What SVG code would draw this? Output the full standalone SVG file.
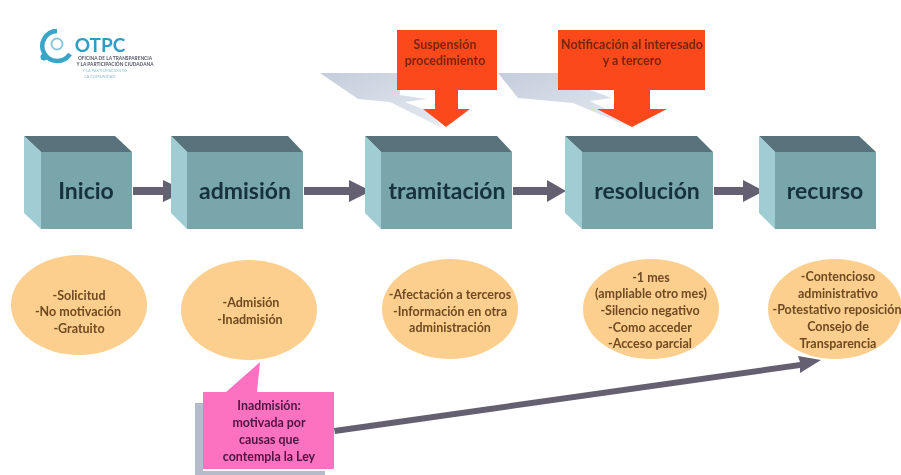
<svg xmlns="http://www.w3.org/2000/svg" width="901" height="475" viewBox="0 0 901 475">
<defs>
<filter id="b" x="-5%" y="-5%" width="110%" height="110%"><feGaussianBlur stdDeviation="0.7"/></filter>
<linearGradient id="s1" x1="0" y1="0" x2="1" y2="1"><stop offset="0" stop-color="#c4cddc"/><stop offset="1" stop-color="#e6eaf0"/></linearGradient>
</defs>
<style>
.front{fill:#78a6ab}.side{fill:#a0ccd4}.top{fill:#58737b}
.t{font-family:Lato,"Open Sans",sans-serif;text-anchor:middle}
.big{font-size:23px;fill:#15303c;font-weight:700}
.o{fill:#fccf8e}
.ot{font-size:12.5px;font-weight:700;fill:#6f4a23}
.rt{font-size:12.5px;font-weight:700;fill:#7a2410}
.pt{font-size:12.4px;font-weight:700;fill:#4e1440}
.sh{fill:url(#s1)}
.red{fill:#fb4a1c}
.arr{fill:#655f72}
</style>
<rect width="901" height="475" fill="#ffffff"/>
<g id="logo" filter="url(#b)">
<path d="M57 31 A15 15 0 1 0 70 54" fill="none" stroke="#3ba4c8" stroke-width="4.5"/>
<circle cx="44" cy="57" r="3.5" fill="#3ba4c8"/><circle cx="57" cy="44" r="5.5" fill="none" stroke="#8cc8dc" stroke-width="2"/>
<text class="t" x="100" y="52" style="font-size:19px;font-weight:700;fill:#2f9cc6">OTPC</text>
<text class="t" x="115" y="60" style="font-size:4.8px;font-weight:700;fill:#556">OFICINA DE LA TRANSPARENCIA</text>
<text class="t" x="115" y="66" style="font-size:4.8px;font-weight:700;fill:#556">Y LA PARTICIPACIÓN CIUDADANA</text>
<text class="t" x="105" y="72" style="font-size:4px;fill:#8cc8dc">Y LA PARTICIPACIÓN DE</text>
<text class="t" x="100" y="78" style="font-size:4px;fill:#8cb8cc">LA COMUNIDAD</text>
</g>
<g id="connectors" filter="url(#b)">
<path class="arr" d="M133 187H163V180L186 191 163 202V195H133Z"/>
<path class="arr" d="M304 187H349V180L371 191 349 202V195H304Z"/>
<path class="arr" d="M513 187H547V180L566 191 547 202V195H513Z"/>
<path class="arr" d="M714 187H743V180L764 191 743 202V195H714Z"/>
<path class="arr" d="M334 428L800 362 798 356 821 360 800 373 800 368 335 434Z"/>
</g>
<g id="sup" filter="url(#b)">
<path class="sh" d="M320 73H400V95L427 99 405 102 430 112 442 128 390 102 358 99Z"/>
<rect class="red" x="397" y="30" width="100" height="60"/>
<path class="red" d="M435 89H458V109H470L446 127 423 109H435Z"/>
<text class="t rt" x="445" y="49">Suspensión</text><text class="t rt" x="445" y="65">procedimiento</text>
</g>
<g id="not" filter="url(#b)">
<path class="sh" d="M498 73H560V90H590L612 98 590 101 612 112 630 127 573 103 518 98Z"/>
<rect class="red" x="558" y="30" width="147" height="60"/>
<path class="red" d="M614 89H650V109H667L632 127 597 109H614Z"/>
<text class="t rt" x="632" y="49">Notificación al interesado</text><text class="t rt" x="632" y="65">y a tercero</text>
</g>
<g id="inicio" filter="url(#b)"><path class="top" d="M24 136H115L132 152H41Z"/><path class="side" d="M24 136L41 152V229L24 213Z"/><rect class="front" x="41" y="152" width="91" height="77"/><text class="t big" x="86" y="199">Inicio</text></g>
<g id="admision" filter="url(#b)"><path class="top" d="M171 136H288L303 152H187Z"/><path class="side" d="M171 136L187 152V229L171 213Z"/><rect class="front" x="187" y="152" width="116" height="77"/><text class="t big" x="245" y="199">admisión</text></g>
<g id="tramitacion" filter="url(#b)"><path class="top" d="M365 136H497L512 152H381Z"/><path class="side" d="M365 136L381 152V229L365 213Z"/><rect class="front" x="381" y="152" width="131" height="77"/><text class="t big" x="447" y="199">tramitación</text></g>
<g id="resolucion" filter="url(#b)"><path class="top" d="M565 136H697L713 152H582Z"/><path class="side" d="M565 136L582 152V229L565 213Z"/><rect class="front" x="582" y="152" width="131" height="77"/><text class="t big" x="647" y="199">resolución</text></g>
<g id="recurso" filter="url(#b)"><path class="top" d="M759 136H859L876 152H775Z"/><path class="side" d="M759 136L775 152V229L759 213Z"/><rect class="front" x="775" y="152" width="101" height="77"/><text class="t big" x="825" y="199">recurso</text></g>
<g id="o1" filter="url(#b)"><ellipse class="o" cx="79" cy="305" rx="68" ry="50"/><text class="t ot" x="79" y="300">-Solicitud</text><text class="t ot" x="78" y="316">-No motivación</text><text class="t ot" x="79" y="333">-Gratuito</text></g>
<g id="o2" filter="url(#b)"><ellipse class="o" cx="249" cy="310" rx="68" ry="50"/><text class="t ot" x="251" y="307">-Admisión</text><text class="t ot" x="250" y="324">-Inadmisión</text></g>
<g id="o3" filter="url(#b)"><ellipse class="o" cx="450" cy="309" rx="68" ry="50"/><text class="t ot" x="450" y="299">-Afectación a terceros</text><text class="t ot" x="450" y="316">-Información en otra</text><text class="t ot" x="450" y="332">administración</text></g>
<g id="o4" filter="url(#b)"><ellipse class="o" cx="651" cy="309" rx="68" ry="50"/><text class="t ot" x="651" y="282">-1 mes</text><text class="t ot" x="651" y="298">(ampliable otro mes)</text><text class="t ot" x="650" y="315">-Silencio negativo</text><text class="t ot" x="650" y="332">-Como acceder</text><text class="t ot" x="650" y="348">-Acceso parcial</text></g>
<g id="o5" filter="url(#b)"><ellipse class="o" cx="835" cy="309" rx="67" ry="50"/><text class="t ot" x="838" y="281">-Contencioso</text><text class="t ot" x="838" y="298">administrativo</text><text class="t ot" x="837" y="314">-Potestativo reposición</text><text class="t ot" x="838" y="331">Consejo de</text><text class="t ot" x="838" y="348">Transparencia</text></g>
<g id="inad" filter="url(#b)">
<path d="M195 403H203V471H325V475H195Z" fill="#b4bccb"/>
<path fill="#fd71c1" d="M203 392H226L260 362 257 392H334V469H203Z"/>
<text class="t pt" x="269" y="410">Inadmisión:</text><text class="t pt" x="269" y="427">motivada por</text><text class="t pt" x="269" y="444">causas que</text><text class="t pt" x="269" y="461">contempla la Ley</text>
</g>
</svg>
